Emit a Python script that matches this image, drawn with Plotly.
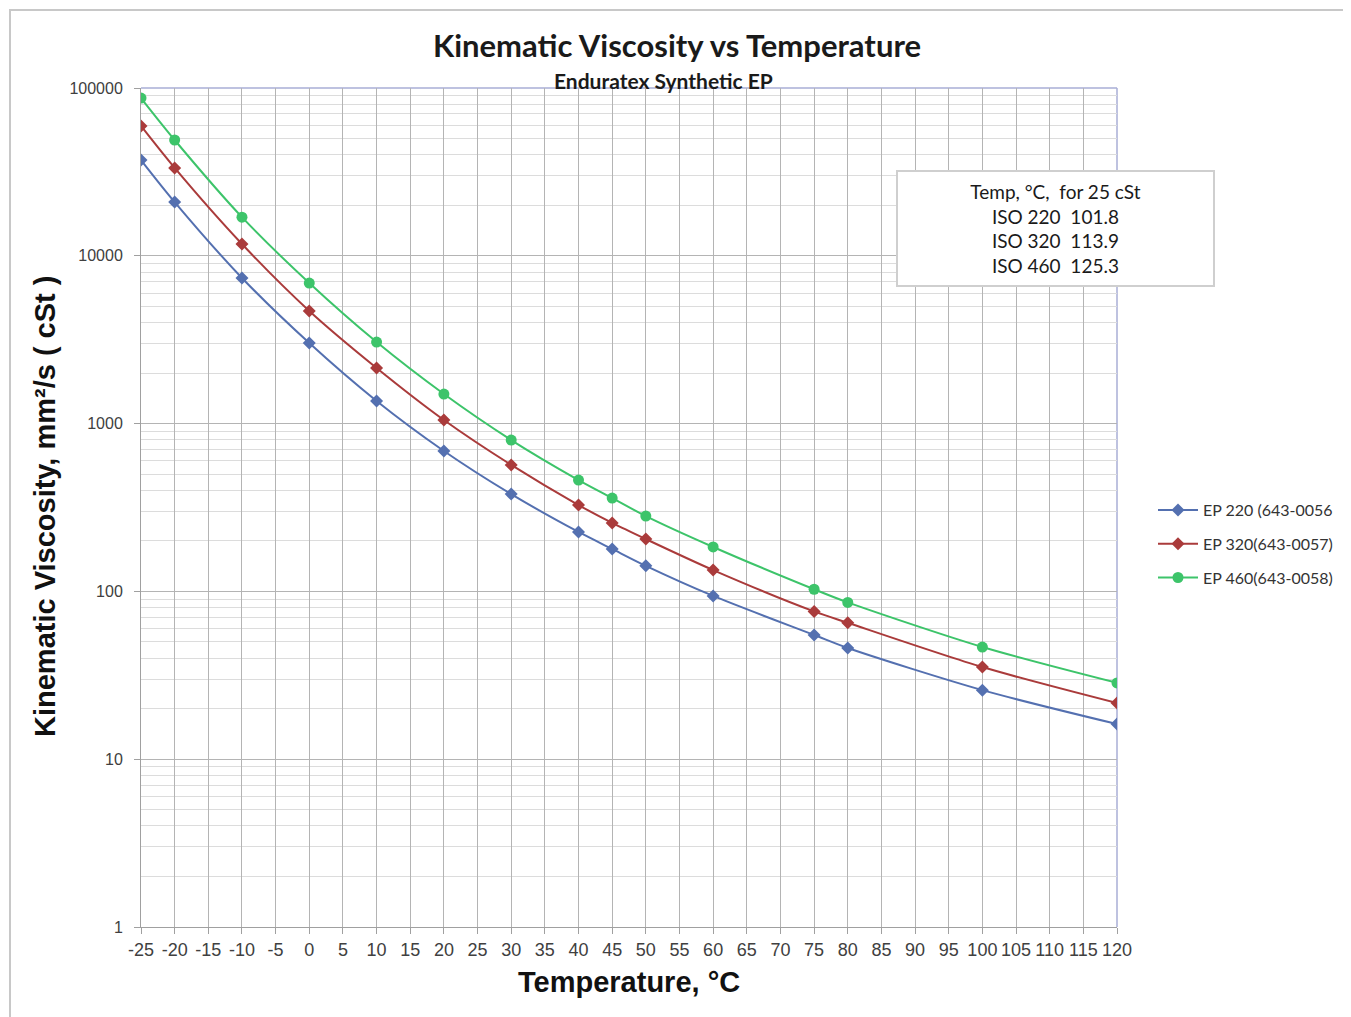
import plotly.graph_objects as go

temps = [-25, -20, -10, 0, 10, 20, 30, 40, 45, 50, 60, 75, 80, 100, 120]
ep220 = [37200, 20900, 7380, 3020, 1364, 687, 380, 226, 179, 142, 94, 55, 46, 25.8, 16.2]
ep320 = [59400, 33400, 11750, 4690, 2145, 1050, 567, 327, 256, 205, 134, 76, 65, 35.4, 21.6]
ep460 = [87100, 49000, 17000, 6880, 3060, 1500, 798, 461, 360, 281, 184, 103, 86, 46.6, 28.5]

series_names = ["EP 220 (643-0056", "EP 320(643-0057)", "EP 460(643-0058)"]
series_colors = ["#5470B0", "#AA3B3B", "#3DC46A"]
series_symbols = ["diamond", "diamond", "circle"]
series_sizes = [10, 10, 11]

x_ticks = list(range(-25, 121, 5))
y_ticks = [1, 10, 100, 1000, 10000, 100000]
y_ticktext = ["1", "10", "100", "1000", "10000", "100000"]

box_lines = ["Temp, \u00b0C,  for 25 cSt", "ISO 220  101.8", "ISO 320  113.9", "ISO 460  125.3"]

fig = go.Figure()
for i, (name, vals, col, sym, sz) in enumerate(zip(series_names, [ep220, ep320, ep460], series_colors, series_symbols, series_sizes)):
    fig.add_trace(go.Scatter(
        x=temps, y=vals, name=name, mode="lines+markers", legendgroup=f"g{i}",
        line=dict(color=col, width=2, shape="spline", smoothing=0.8),
        marker=dict(symbol=sym, size=sz, color=col),
    ))

# page body margin offset (screen px -> figure px)
OFF = 8
W, H = 1351 - OFF, 1017 - OFF
L, R, T, B = 141 - OFF, 1117 - OFF, 88 - OFF, 927 - OFF
pw, ph = R - L, B - T

def px(x):
    return (x - OFF - L) / pw

def py(y):
    return (B - (y - OFF)) / ph

fig.update_layout(
    width=W, height=H,
    margin=dict(l=L, r=W - R, t=T, b=H - B),
    paper_bgcolor="white", plot_bgcolor="white",
    showlegend=True,
    legend=dict(x=px(1153), y=py(544), xanchor="left", yanchor="middle",
                font=dict(family="Lato", size=16, color="#333333"),
                tracegroupgap=10, itemwidth=40, bgcolor="rgba(0,0,0,0)"),
    title=dict(text="<b>Kinematic Viscosity vs Temperature</b>", x=(677 - OFF) / W, xanchor="center",
               y=1 - (46 - OFF) / H, yanchor="middle",
               font=dict(family="Lato", size=31, color="#1a1a1a")),
)

fig.update_xaxes(
    range=[-25, 120], tickvals=x_ticks, ticktext=[str(v) for v in x_ticks],
    showgrid=True, gridcolor="#B4B4B4", gridwidth=1,
    showline=True, linecolor="#A0A0A0", linewidth=1,
    ticks="outside", ticklen=6, tickcolor="#A0A0A0",
    tickfont=dict(family="Liberation Sans, Arial", size=18, color="#404040"),
    zeroline=False,
)
fig.update_yaxes(
    type="log", range=[0, 5], tickvals=y_ticks, ticktext=y_ticktext,
    showgrid=True, gridcolor="#B4B4B4", gridwidth=1,
    minor=dict(dtick="D1", showgrid=True, gridcolor="#DCDCDC", gridwidth=1, ticks=""),
    showline=True, linecolor="#A0A0A0", linewidth=1,
    ticks="outside", ticklen=6, tickcolor="#A0A0A0", ticklabelstandoff=8,
    tickfont=dict(family="Liberation Sans, Arial", size=16, color="#404040"),
    zeroline=False,
)

# axis titles
fig.add_annotation(
    text="<b>Temperature, \u00b0C</b>", xref="paper", yref="paper",
    x=px(629), y=py(982), xanchor="center", yanchor="middle", showarrow=False,
    font=dict(family="Liberation Sans", size=29, color="#111111"),
)
fig.add_annotation(
    text="<b>Kinematic Viscosity, mm\u00b2/s ( cSt )</b>", xref="paper", yref="paper",
    x=px(45), y=py(507), xanchor="center", yanchor="middle", showarrow=False, textangle=-90,
    font=dict(family="Liberation Sans", size=29, color="#111111"),
)

fig.add_annotation(
    text="<b>Enduratex Synthetic EP</b>", xref="paper", yref="paper",
    x=px(663), y=py(81), xanchor="center", yanchor="middle", showarrow=False,
    font=dict(family="Lato", size=21, color="#1a1a1a"),
)

fig.add_annotation(
    text="<br>".join(box_lines), xref="paper", yref="paper",
    x=px(1055.5), y=py(228.5), xanchor="center", yanchor="middle", showarrow=False,
    width=315, height=113, align="center", valign="middle",
    bgcolor="white", bordercolor="#CFCFCF", borderwidth=2, borderpad=0,
    font=dict(family="Lato", size=19, color="#1a1a1a"),
)

# top and right border of plot area (bluish, as in reference)
fig.add_shape(type="line", xref="paper", yref="paper", x0=0, x1=1, y0=1, y1=1,
              line=dict(color="#A8AED6", width=1.5), layer="below")
fig.add_shape(type="line", xref="paper", yref="paper", x0=1, x1=1, y0=0, y1=1,
              line=dict(color="#A8AED6", width=1.5), layer="below")

# outer frame of the chart
fig.add_shape(type="rect", xref="paper", yref="paper",
              x0=px(10), x1=px(1349), y0=py(1030), y1=py(10),
              line=dict(color="#C8C8C8", width=2), fillcolor="rgba(0,0,0,0)", layer="below")

fig.write_html("out.html")
